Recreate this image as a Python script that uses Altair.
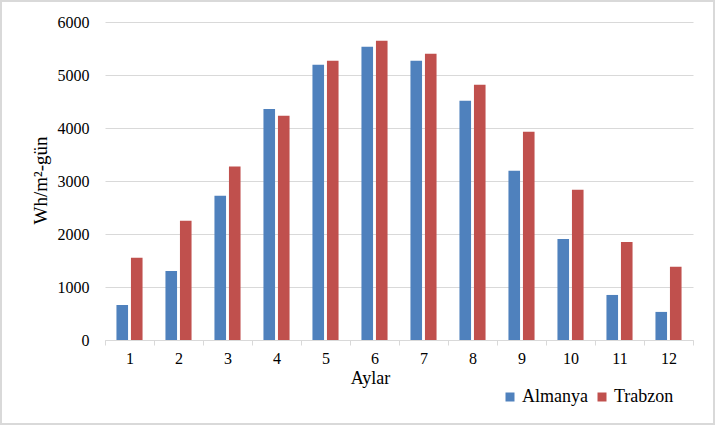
import altair as alt
import pandas as pd

months = [1, 2, 3, 4, 5, 6, 7, 8, 9, 10, 11, 12]
almanya = [660, 1300, 2720, 4360, 5195, 5535, 5270, 4515, 3195, 1905, 850, 530]
trabzon = [1550, 2250, 3275, 4230, 5270, 5645, 5400, 4815, 3930, 2835, 1850, 1380]
series = ["Almanya", "Trabzon"]
colors = ["#4f81bd", "#c0504d"]
y_ticks = [0, 1000, 2000, 3000, 4000, 5000, 6000]

rows = []
for m, a, t in zip(months, almanya, trabzon):
    rows.append({"Ay": m, "Seri": series[0], "Deger": a})
    rows.append({"Ay": m, "Seri": series[1], "Deger": t})
df = pd.DataFrame(rows)

FONT = "Liberation Serif"
W, H = 588, 318

bars = alt.Chart(df).mark_bar().encode(
    x=alt.X("Ay:O",
            scale=alt.Scale(paddingInner=0, paddingOuter=0),
            axis=alt.Axis(title="Aylar", labelAngle=0, tickBand="extent",
                          domainColor="#d9d9d9", tickColor="#d9d9d9", tickSize=5,
                          labelPadding=5, labelFontSize=16, labelFont=FONT,
                          labelColor="#000000", grid=False,
                          titleFont=FONT, titleFontSize=18, titleFontWeight="normal",
                          titleColor="#000000", titleX=265, titleY=43,
                          titleBaseline="alphabetic", titleAlign="center")),
    xOffset=alt.XOffset("Seri:N", scale=alt.Scale(domain=series, paddingInner=0.2, paddingOuter=0.79)),
    y=alt.Y("Deger:Q",
            scale=alt.Scale(domain=[0, 6000], nice=False),
            axis=alt.Axis(title="Wh/m²-gün", values=y_ticks, format="d", ticks=False, tickSize=0,
                          domain=False, grid=True, gridColor="#d9d9d9", gridWidth=1,
                          labelPadding=16, labelFontSize=16, labelFont=FONT,
                          labelColor="#000000",
                          titleFont=FONT, titleFontSize=19, titleFontWeight="normal",
                          titleColor="#000000", titleAngle=-90, titleX=-65, titleY=158,
                          titleBaseline="middle", titleAlign="center")),
    color=alt.Color("Seri:N",
                    scale=alt.Scale(domain=series, range=colors),
                    legend=alt.Legend(title=None, orient="none", direction="horizontal",
                                      legendX=396, legendY=366, padding=0,
                                      symbolType="square", symbolSize=81,
                                      symbolStrokeWidth=0, labelOffset=3,
                                      columnPadding=5, labelFont=FONT,
                                      labelFontSize=18, labelColor="#000000")),
)

border = alt.Chart(alt.Data(values=[{}])).mark_rect(
    fill=None, stroke="#d9d9d9", strokeWidth=2
).encode(
    x=alt.value(-104), x2=alt.value(W + 21),
    y=alt.value(-21), y2=alt.value(H + 84),
)

chart = alt.layer(border, bars).properties(
    width=W, height=H,
    autosize=alt.AutoSizeParams(type="none"),
    padding={"left": 105, "top": 22, "right": 22, "bottom": 85},
    background="white",
).configure_view(stroke=None)

chart.save("out.html", embed_options={"renderer": "svg", "actions": False})
